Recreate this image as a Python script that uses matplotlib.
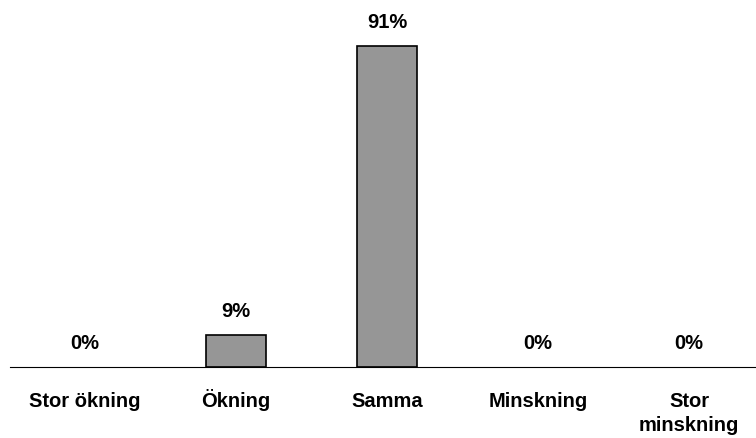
import matplotlib.pyplot as plt

plt.rcParams['font.family'] = ['Liberation Sans', 'DejaVu Sans']

categories = ['Stor ökning', 'Ökning', 'Samma', 'Minskning', 'Stor\nminskning']
values = [0, 9, 91, 0, 0]
labels = ['0%', '9%', '91%', '0%', '0%']

fig = plt.figure(figsize=(7.56, 4.39), dpi=100)
ax = fig.add_axes([9.5 / 756, 1 - 368 / 439, 755 / 756, 352.7 / 439])

x = range(len(categories))
bars = ax.bar(x, values, width=0.4, color='#969696', edgecolor='black', linewidth=1.2, zorder=2)
# empty bars show no outline in the original
for b, v in zip(bars, values):
    if v == 0:
        b.set_visible(False)

for xi, v, lab in zip(x, values, labels):
    ax.annotate(lab, (xi, v), xytext=(0, 17.5), textcoords='offset points',
                ha='center', va='center', fontsize=14.5, fontweight='bold')

# category names below the axis, baseline-aligned (last line of multi-line labels)
line_px = 24
for xi, cat in zip(x, categories):
    n = cat.count('\n')
    off = (39 + n * line_px) * 72 / 100
    ax.annotate(cat, (xi, 0), xycoords=('data', 'axes fraction'),
                xytext=(0, -off), textcoords='offset points',
                ha='center', va='baseline', fontsize=14.5, fontweight='bold',
                linespacing=1.35, annotation_clip=False)

ax.set_xlim(-0.5, 4.5)
ax.set_ylim(0, 100)
ax.set_xticks([])
ax.set_yticks([])
for s in ['top', 'right', 'left']:
    ax.spines[s].set_visible(False)
ax.spines['bottom'].set_linewidth(0.8)
ax.spines['bottom'].set_color('black')

fig.savefig('out.png', dpi=100)
